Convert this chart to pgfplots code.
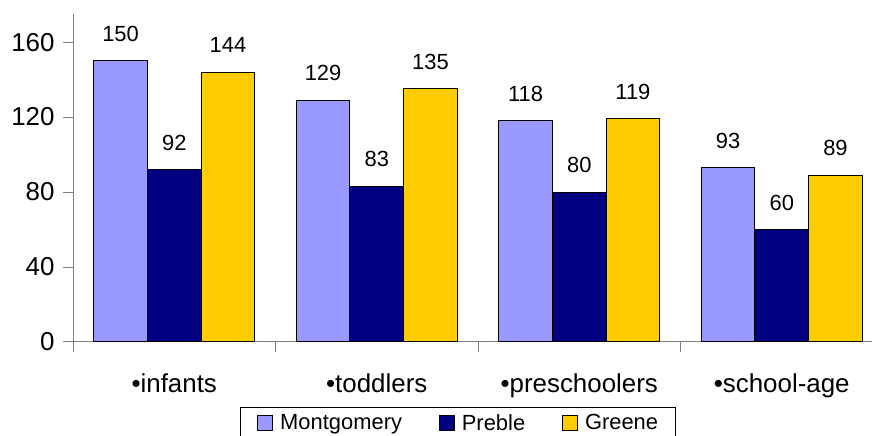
\documentclass[border=0pt]{standalone}
\usepackage{pgfplots}
\pgfplotsset{compat=1.18}
\usepackage{fontspec}
\setmainfont{Liberation Sans}
\definecolor{montgomery}{HTML}{9999FF}
\definecolor{preble}{HTML}{000080}
\definecolor{greene}{HTML}{FFCC00}
\definecolor{axisgray}{HTML}{808080}

\pgfplotsset{
  sqlegend/.style={legend image code/.code={%
    \draw[##1, draw=black, line width=0.8bp] (0bp,-7.5bp) rectangle (15bp,7.5bp);}},
}

\begin{document}
\begin{tikzpicture}[x=1bp,y=1bp]
\useasboundingbox (0,0) rectangle (872,436);
\clip (0,0) rectangle (872,436);
\begin{axis}[
  at={(73bp,94bp)}, anchor=south west,
  scale only axis, width=810bp, height=328bp,
  xmin=-0.5, xmax=3.5, ymin=0, ymax=175,
  axis lines=left,
  axis line style={-, draw=axisgray, line width=1bp},
  ybar=0pt, bar width=53.7bp,
  xtick={-0.5,0.5,1.5,2.5,3.5}, xticklabels={},
  extra x ticks={0,1,2,3},
  extra x tick labels={•infants,•toddlers,•preschoolers,•school-age},
  extra x tick style={major tick length=0pt,
    xticklabel style={font=\fontsize{26}{30}\selectfont, yshift=-28bp}},
  ytick={0,40,80,120,160},
  tick align=outside, major tick length=10bp,
  tick style={draw=axisgray, line width=1bp},
  yticklabel style={font=\fontsize{26}{30}\selectfont, xshift=-5bp},
  /pgf/number format/assume math mode=true,
  nodes near coords,
  every node near coord/.append style={font=\fontsize{22}{26}\selectfont,
    anchor=center, yshift=27bp, text=black},
  legend columns=3,
  legend style={at={(0.2062,-0.1982)}, anchor=north west, draw=black,
    line width=0.8bp, font=\fontsize{22}{26}\selectfont,
    inner xsep=17bp, inner ysep=5bp,
    nodes={inner xsep=0pt, inner ysep=2bp},
    /tikz/every odd column/.append style={column sep=7bp},
    /tikz/every even column/.append style={column sep=37bp}},
]
\addplot[fill=montgomery, draw=black, line width=1bp, sqlegend]
  coordinates {(0,150) (1,129) (2,118) (3,93)};
\addplot[fill=preble, draw=black, line width=1bp, sqlegend]
  coordinates {(0,92) (1,83) (2,80) (3,60)};
\addplot[fill=greene, draw=black, line width=1bp, sqlegend]
  coordinates {(0,144) (1,135) (2,119) (3,89)};
\legend{Montgomery, Preble, Greene}
\end{axis}
\end{tikzpicture}
\end{document}
